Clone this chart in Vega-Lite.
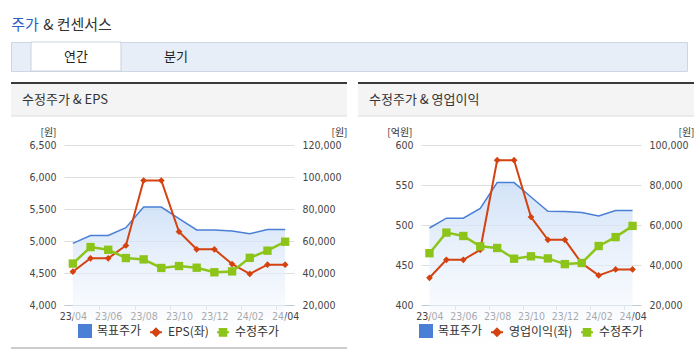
{
 "$schema": "https://vega.github.io/schema/vega-lite/v6.json",
 "background": "#ffffff",
 "padding": {"left": 9, "top": 14, "right": 0, "bottom": 0},
 "datasets": {
  "price": [
   {"m":"23/04","s":"목표주가","v":58500},{"m":"23/05","s":"목표주가","v":63400},{"m":"23/06","s":"목표주가","v":63400},{"m":"23/07","s":"목표주가","v":68300},{"m":"23/08","s":"목표주가","v":81200},{"m":"23/09","s":"목표주가","v":81200},{"m":"23/10","s":"목표주가","v":74000},{"m":"23/11","s":"목표주가","v":66900},{"m":"23/12","s":"목표주가","v":66800},{"m":"24/01","s":"목표주가","v":66200},{"m":"24/02","s":"목표주가","v":64500},{"m":"24/03","s":"목표주가","v":67200},{"m":"24/04","s":"목표주가","v":67200},
   {"m":"23/04","s":"수정주가","v":45900},{"m":"23/05","s":"수정주가","v":56200},{"m":"23/06","s":"수정주가","v":54500},{"m":"23/07","s":"수정주가","v":49350},{"m":"23/08","s":"수정주가","v":48500},{"m":"23/09","s":"수정주가","v":43150},{"m":"23/10","s":"수정주가","v":44350},{"m":"23/11","s":"수정주가","v":43300},{"m":"23/12","s":"수정주가","v":40450},{"m":"24/01","s":"수정주가","v":41000},{"m":"24/02","s":"수정주가","v":49500},{"m":"24/03","s":"수정주가","v":53950},{"m":"24/04","s":"수정주가","v":59550}
  ],
  "eps": [
   {"m":"23/04","s":"EPS(좌)","v":4520},{"m":"23/05","s":"EPS(좌)","v":4730},{"m":"23/06","s":"EPS(좌)","v":4730},{"m":"23/07","s":"EPS(좌)","v":4930},{"m":"23/08","s":"EPS(좌)","v":5945},{"m":"23/09","s":"EPS(좌)","v":5945},{"m":"23/10","s":"EPS(좌)","v":5145},{"m":"23/11","s":"EPS(좌)","v":4870},{"m":"23/12","s":"EPS(좌)","v":4870},{"m":"24/01","s":"EPS(좌)","v":4640},{"m":"24/02","s":"EPS(좌)","v":4485},{"m":"24/03","s":"EPS(좌)","v":4630},{"m":"24/04","s":"EPS(좌)","v":4630}
  ],
  "op": [
   {"m":"23/04","s":"영업이익(좌)","v":434},{"m":"23/05","s":"영업이익(좌)","v":456.5},{"m":"23/06","s":"영업이익(좌)","v":456.5},{"m":"23/07","s":"영업이익(좌)","v":469},{"m":"23/08","s":"영업이익(좌)","v":581},{"m":"23/09","s":"영업이익(좌)","v":581},{"m":"23/10","s":"영업이익(좌)","v":510},{"m":"23/11","s":"영업이익(좌)","v":481.5},{"m":"23/12","s":"영업이익(좌)","v":481.5},{"m":"24/01","s":"영업이익(좌)","v":452},{"m":"24/02","s":"영업이익(좌)","v":437},{"m":"24/03","s":"영업이익(좌)","v":444.5},{"m":"24/04","s":"영업이익(좌)","v":444.5}
  ]
 },
 "spacing": 10,
 "resolve": {"scale": {"color": "independent"}, "legend": {"color": "independent"}},
 "vconcat": [
  {
   "spacing": 5,
   "vconcat": [
    {
     "spacing": 4,
     "hconcat": [
      {"width": 28, "height": 22, "data": {"values": [{"t": "주가"}]}, "mark": {"type": "text", "fontSize": 15, "color": "#2a5fc4", "baseline": "middle"}, "encoding": {"text": {"field": "t"}}},
      {"width": 69, "height": 22, "data": {"values": [{"t": "& 컨센서스"}]}, "mark": {"type": "text", "fontSize": 15, "color": "#333333", "baseline": "middle"}, "encoding": {"text": {"field": "t"}}}
     ]
    },
    {
     "width": 676, "height": 29,
     "view": {"fill": "#e8eef8", "stroke": "#cdd6e4"},
     "data": {"values": [{"tab": "연간"}, {"tab": "분기"}]},
     "layer": [
      {"transform": [{"filter": "datum.tab === '연간'"}],
       "mark": {"type": "rect", "fill": "#ffffff", "stroke": "#c9d2df"},
       "encoding": {"x": {"field": "tab", "type": "nominal", "sort": null, "scale": {"domain": ["연간", "분기"], "range": [20, 210], "paddingInner": 0.1, "paddingOuter": 0}, "axis": null}}},
      {"mark": {"type": "text", "fontSize": 13, "color": "#222222"},
       "encoding": {"x": {"field": "tab", "type": "nominal", "sort": null, "scale": {"domain": ["연간", "분기"], "range": [20, 210], "paddingInner": 0.1, "paddingOuter": 0}, "axis": null}, "text": {"field": "tab"}}}
     ]
    }
   ]
  },
  {
   "spacing": 7,
   "resolve": {"scale": {"color": "independent"}, "legend": {"color": "independent"}},
   "hconcat": [
    {
     "spacing": 10,
     "resolve": {"scale": {"color": "independent"}, "legend": {"color": "independent"}},
     "vconcat": [
      {"width": 336, "height": 33, "view": {"fill": "#f4f4f4", "stroke": null},
       "title": {"text": "수정주가 & EPS", "anchor": "start", "frame": "group", "offset": -25, "dx": 11, "fontSize": 13, "fontWeight": "normal", "color": "#333333"},
       "data": {"values": [{}]},
       "layer": [
        {"mark": {"type": "rule", "color": "#3a3a3a", "strokeWidth": 2}, "encoding": {"y": {"datum": 1, "type": "quantitative", "scale": {"domain": [0, 1], "nice": false}, "axis": null}}},
        {"mark": {"type": "rule", "color": "#dddddd", "strokeWidth": 1}, "encoding": {"y": {"datum": 0, "type": "quantitative", "scale": {"domain": [0, 1], "nice": false}, "axis": null}}}
       ]},
      {"spacing": 6,
       "resolve": {"scale": {"color": "independent"}, "legend": {"color": "independent"}},
       "vconcat": [
       {"spacing": 0, "bounds": "flush",
        "resolve": {"scale": {"color": "independent"}, "legend": {"color": "independent"}},
        "hconcat": [
        {"width": 53, "height": 160, "data": {"values": [{}]}, "mark": {"type": "text", "text": ""}, "encoding": {}},
        {
        "width": 230, "height": 160,
        "layer": [
         {"data": {"name": "price"}, "transform": [{"filter": "datum.s === '목표주가'"}],
          "mark": {"type": "area", "color": {"gradient": "linear", "x1": 0, "y1": 0, "x2": 0, "y2": 1, "stops": [{"offset": 0, "color": "rgba(200,220,246,0.8)"}, {"offset": 1, "color": "rgba(255,255,255,0.5)"}]}},
          "encoding": {
           "x": {"field":"m","type":"ordinal","sort":null,"bandPosition":0.5,"scale":{"type":"band","paddingInner":0,"paddingOuter":0},"axis":{"title":null,"labelAngle":0,"labelOverlap":false,"labelExpr":"indexof(['23/05','23/07','23/09','23/11','24/01','24/03'], datum.value) >= 0 ? '' : datum.label","tickBand":"extent","tickOpacity":{"condition":{"test":"indexof(['23/05','23/07','23/09','23/11','24/01','24/03'], datum.value) >= 0","value":1},"value":0},"domainColor":"#bfcad8","tickColor":"#bfcad8","tickSize":4,"labelPadding":2,"grid":false}},
           "y": {"field": "v", "type": "quantitative", "scale": {"domain": [20000, 120000], "nice": false, "zero": false}, "axis": {"orient":"right","values":[20000,40000,60000,80000,100000,120000],"format":",.0f","title":"[원]","titleAngle":0,"titleAlign":"left","titleBaseline":"bottom","titleX":37,"titleY":-8,"ticks":false,"domain":false,"labelPadding":8,"grid":false}}
          }},
         {"data": {"name": "price"}, "transform": [{"filter": "datum.s === '목표주가'"}],
          "mark": {"type": "line", "strokeWidth": 1.5},
          "encoding": {
           "x": {"field":"m","type":"ordinal","sort":null,"bandPosition":0.5,"scale":{"type":"band","paddingInner":0,"paddingOuter":0},"axis":{"title":null,"labelAngle":0,"labelOverlap":false,"labelExpr":"indexof(['23/05','23/07','23/09','23/11','24/01','24/03'], datum.value) >= 0 ? '' : datum.label","tickBand":"extent","tickOpacity":{"condition":{"test":"indexof(['23/05','23/07','23/09','23/11','24/01','24/03'], datum.value) >= 0","value":1},"value":0},"domainColor":"#bfcad8","tickColor":"#bfcad8","tickSize":4,"labelPadding":2,"grid":false}},
           "y": {"field": "v", "type": "quantitative", "scale": {"domain": [20000, 120000], "nice": false, "zero": false}, "axis": null},
           "color": {"field":"s","type":"nominal","scale":{"domain":["목표주가","EPS(좌)","수정주가"],"range":["#4a7fd6","#d4420f","#8cc41a"]},"legend":{"title":null,"orient":"bottom","direction":"horizontal","encode":{"symbols":{"update":{"shape":{"signal":"datum.value === '목표주가' ? 'M-1,-1H1V1H-1Z' : datum.value === '수정주가' ? 'M-1,0H1M-0.55,-0.55H0.55V0.55H-0.55Z' : 'M-1,0H1M0,-0.6L0.6,0L0,0.6L-0.6,0Z'"},"fill":{"signal":"datum.value === '목표주가' ? '#1f6bdc' : datum.value === '수정주가' ? '#8cc41a' : '#d4420f'"},"stroke":{"signal":"datum.value === '목표주가' ? 'transparent' : datum.value === '수정주가' ? '#8cc41a' : '#d4420f'"},"strokeWidth":{"value":2},"opacity":{"value":1},"fillOpacity":{"value":1},"strokeOpacity":{"value":1}}}}}}
          }},
         {"data": {"name": "eps"},
          "mark": {"type": "line", "strokeWidth": 2},
          "encoding": {
           "x": {"field":"m","type":"ordinal","sort":null,"bandPosition":0.5,"scale":{"type":"band","paddingInner":0,"paddingOuter":0},"axis":{"title":null,"labelAngle":0,"labelOverlap":false,"labelExpr":"indexof(['23/05','23/07','23/09','23/11','24/01','24/03'], datum.value) >= 0 ? '' : datum.label","tickBand":"extent","tickOpacity":{"condition":{"test":"indexof(['23/05','23/07','23/09','23/11','24/01','24/03'], datum.value) >= 0","value":1},"value":0},"domainColor":"#bfcad8","tickColor":"#bfcad8","tickSize":4,"labelPadding":2,"grid":false}},
           "y": {"field": "v", "type": "quantitative", "scale": {"domain": [4000, 6500], "nice": false, "zero": false}, "axis": {"orient":"left","values":[4000,4500,5000,5500,6000,6500],"format":",.0f","title":"[원]","titleAngle":0,"titleAlign":"right","titleBaseline":"bottom","titleX":-8,"titleY":-8,"ticks":false,"domain":false,"labelPadding":8,"grid":true,"gridColor":"#dedede"}},
           "color": {"field":"s","type":"nominal","scale":{"domain":["목표주가","EPS(좌)","수정주가"],"range":["#4a7fd6","#d4420f","#8cc41a"]}}
          }},
         {"data": {"name": "eps"},
          "mark": {"type": "point", "shape": "diamond", "filled": true, "size": 45, "opacity": 1},
          "encoding": {
           "x": {"field":"m","type":"ordinal","sort":null,"bandPosition":0.5,"scale":{"type":"band","paddingInner":0,"paddingOuter":0},"axis":{"title":null,"labelAngle":0,"labelOverlap":false,"labelExpr":"indexof(['23/05','23/07','23/09','23/11','24/01','24/03'], datum.value) >= 0 ? '' : datum.label","tickBand":"extent","tickOpacity":{"condition":{"test":"indexof(['23/05','23/07','23/09','23/11','24/01','24/03'], datum.value) >= 0","value":1},"value":0},"domainColor":"#bfcad8","tickColor":"#bfcad8","tickSize":4,"labelPadding":2,"grid":false}},
           "y": {"field": "v", "type": "quantitative", "scale": {"domain": [4000, 6500], "nice": false, "zero": false}, "axis": null},
           "color": {"field":"s","type":"nominal","scale":{"domain":["목표주가","EPS(좌)","수정주가"],"range":["#4a7fd6","#d4420f","#8cc41a"]}}
          }},
         {"data": {"name": "price"}, "transform": [{"filter": "datum.s === '수정주가'"}],
          "mark": {"type": "line", "strokeWidth": 2.5},
          "encoding": {
           "x": {"field":"m","type":"ordinal","sort":null,"bandPosition":0.5,"scale":{"type":"band","paddingInner":0,"paddingOuter":0},"axis":{"title":null,"labelAngle":0,"labelOverlap":false,"labelExpr":"indexof(['23/05','23/07','23/09','23/11','24/01','24/03'], datum.value) >= 0 ? '' : datum.label","tickBand":"extent","tickOpacity":{"condition":{"test":"indexof(['23/05','23/07','23/09','23/11','24/01','24/03'], datum.value) >= 0","value":1},"value":0},"domainColor":"#bfcad8","tickColor":"#bfcad8","tickSize":4,"labelPadding":2,"grid":false}},
           "y": {"field": "v", "type": "quantitative", "scale": {"domain": [20000, 120000], "nice": false, "zero": false}, "axis": null},
           "color": {"field":"s","type":"nominal","scale":{"domain":["목표주가","EPS(좌)","수정주가"],"range":["#4a7fd6","#d4420f","#8cc41a"]}}
          }},
         {"data": {"name": "price"}, "transform": [{"filter": "datum.s === '수정주가'"}],
          "mark": {"type": "point", "shape": "square", "filled": true, "size": 70, "opacity": 1},
          "encoding": {
           "x": {"field":"m","type":"ordinal","sort":null,"bandPosition":0.5,"scale":{"type":"band","paddingInner":0,"paddingOuter":0},"axis":{"title":null,"labelAngle":0,"labelOverlap":false,"labelExpr":"indexof(['23/05','23/07','23/09','23/11','24/01','24/03'], datum.value) >= 0 ? '' : datum.label","tickBand":"extent","tickOpacity":{"condition":{"test":"indexof(['23/05','23/07','23/09','23/11','24/01','24/03'], datum.value) >= 0","value":1},"value":0},"domainColor":"#bfcad8","tickColor":"#bfcad8","tickSize":4,"labelPadding":2,"grid":false}},
           "y": {"field": "v", "type": "quantitative", "scale": {"domain": [20000, 120000], "nice": false, "zero": false}, "axis": null},
           "color": {"field":"s","type":"nominal","scale":{"domain":["목표주가","EPS(좌)","수정주가"],"range":["#4a7fd6","#d4420f","#8cc41a"]}}
          }}
        ],
        "resolve": {"scale": {"y": "independent"}}
       }]},
       {"width": 336, "height": 3, "data": {"values": [{}]}, "mark": {"type": "rule", "color": "#cccccc", "strokeWidth": 3}, "encoding": {"y": {"datum": 0.5, "type": "quantitative", "scale": {"domain": [0, 1], "nice": false}, "axis": null}}}
      ]}
     ]
    },
    {
     "spacing": 10,
     "resolve": {"scale": {"color": "independent"}, "legend": {"color": "independent"}},
     "vconcat": [
      {"width": 336, "height": 33, "view": {"fill": "#f4f4f4", "stroke": null},
       "title": {"text": "수정주가 & 영업이익", "anchor": "start", "frame": "group", "offset": -25, "dx": 11, "fontSize": 13, "fontWeight": "normal", "color": "#333333"},
       "data": {"values": [{}]},
       "layer": [
        {"mark": {"type": "rule", "color": "#3a3a3a", "strokeWidth": 2}, "encoding": {"y": {"datum": 1, "type": "quantitative", "scale": {"domain": [0, 1], "nice": false}, "axis": null}}},
        {"mark": {"type": "rule", "color": "#dddddd", "strokeWidth": 1}, "encoding": {"y": {"datum": 0, "type": "quantitative", "scale": {"domain": [0, 1], "nice": false}, "axis": null}}}
       ]},
      {"spacing": 6,
       "resolve": {"scale": {"color": "independent"}, "legend": {"color": "independent"}},
       "vconcat": [
       {"spacing": 0, "bounds": "flush",
        "resolve": {"scale": {"color": "independent"}, "legend": {"color": "independent"}},
        "hconcat": [
        {"width": 63, "height": 160, "data": {"values": [{}]}, "mark": {"type": "text", "text": ""}, "encoding": {}},
        {
        "width": 220, "height": 160,
        "layer": [
         {"data": {"name": "price"}, "transform": [{"filter": "datum.s === '목표주가'"}],
          "mark": {"type": "area", "color": {"gradient": "linear", "x1": 0, "y1": 0, "x2": 0, "y2": 1, "stops": [{"offset": 0, "color": "rgba(200,220,246,0.8)"}, {"offset": 1, "color": "rgba(255,255,255,0.5)"}]}},
          "encoding": {
           "x": {"field":"m","type":"ordinal","sort":null,"bandPosition":0.5,"scale":{"type":"band","paddingInner":0,"paddingOuter":0},"axis":{"title":null,"labelAngle":0,"labelOverlap":false,"labelExpr":"indexof(['23/05','23/07','23/09','23/11','24/01','24/03'], datum.value) >= 0 ? '' : datum.label","tickBand":"extent","tickOpacity":{"condition":{"test":"indexof(['23/05','23/07','23/09','23/11','24/01','24/03'], datum.value) >= 0","value":1},"value":0},"domainColor":"#bfcad8","tickColor":"#bfcad8","tickSize":4,"labelPadding":2,"grid":false}},
           "y": {"field": "v", "type": "quantitative", "scale": {"domain": [20000, 100000], "nice": false, "zero": false}, "axis": {"orient":"right","values":[20000,40000,60000,80000,100000],"format":",.0f","title":"[원]","titleAngle":0,"titleAlign":"left","titleBaseline":"bottom","titleX":37,"titleY":-8,"ticks":false,"domain":false,"labelPadding":8,"grid":false}}
          }},
         {"data": {"name": "price"}, "transform": [{"filter": "datum.s === '목표주가'"}],
          "mark": {"type": "line", "strokeWidth": 1.5},
          "encoding": {
           "x": {"field":"m","type":"ordinal","sort":null,"bandPosition":0.5,"scale":{"type":"band","paddingInner":0,"paddingOuter":0},"axis":{"title":null,"labelAngle":0,"labelOverlap":false,"labelExpr":"indexof(['23/05','23/07','23/09','23/11','24/01','24/03'], datum.value) >= 0 ? '' : datum.label","tickBand":"extent","tickOpacity":{"condition":{"test":"indexof(['23/05','23/07','23/09','23/11','24/01','24/03'], datum.value) >= 0","value":1},"value":0},"domainColor":"#bfcad8","tickColor":"#bfcad8","tickSize":4,"labelPadding":2,"grid":false}},
           "y": {"field": "v", "type": "quantitative", "scale": {"domain": [20000, 100000], "nice": false, "zero": false}, "axis": null},
           "color": {"field":"s","type":"nominal","scale":{"domain":["목표주가","영업이익(좌)","수정주가"],"range":["#4a7fd6","#d4420f","#8cc41a"]},"legend":{"title":null,"orient":"bottom","direction":"horizontal","encode":{"symbols":{"update":{"shape":{"signal":"datum.value === '목표주가' ? 'M-1,-1H1V1H-1Z' : datum.value === '수정주가' ? 'M-1,0H1M-0.55,-0.55H0.55V0.55H-0.55Z' : 'M-1,0H1M0,-0.6L0.6,0L0,0.6L-0.6,0Z'"},"fill":{"signal":"datum.value === '목표주가' ? '#1f6bdc' : datum.value === '수정주가' ? '#8cc41a' : '#d4420f'"},"stroke":{"signal":"datum.value === '목표주가' ? 'transparent' : datum.value === '수정주가' ? '#8cc41a' : '#d4420f'"},"strokeWidth":{"value":2},"opacity":{"value":1},"fillOpacity":{"value":1},"strokeOpacity":{"value":1}}}}}}
          }},
         {"data": {"name": "op"},
          "mark": {"type": "line", "strokeWidth": 2},
          "encoding": {
           "x": {"field":"m","type":"ordinal","sort":null,"bandPosition":0.5,"scale":{"type":"band","paddingInner":0,"paddingOuter":0},"axis":{"title":null,"labelAngle":0,"labelOverlap":false,"labelExpr":"indexof(['23/05','23/07','23/09','23/11','24/01','24/03'], datum.value) >= 0 ? '' : datum.label","tickBand":"extent","tickOpacity":{"condition":{"test":"indexof(['23/05','23/07','23/09','23/11','24/01','24/03'], datum.value) >= 0","value":1},"value":0},"domainColor":"#bfcad8","tickColor":"#bfcad8","tickSize":4,"labelPadding":2,"grid":false}},
           "y": {"field": "v", "type": "quantitative", "scale": {"domain": [400, 600], "nice": false, "zero": false}, "axis": {"orient":"left","values":[400,450,500,550,600],"format":",.0f","title":"[억원]","titleAngle":0,"titleAlign":"right","titleBaseline":"bottom","titleX":-9,"titleY":-8,"ticks":false,"domain":false,"labelPadding":8,"grid":true,"gridColor":"#dedede"}},
           "color": {"field":"s","type":"nominal","scale":{"domain":["목표주가","영업이익(좌)","수정주가"],"range":["#4a7fd6","#d4420f","#8cc41a"]}}
          }},
         {"data": {"name": "op"},
          "mark": {"type": "point", "shape": "diamond", "filled": true, "size": 45, "opacity": 1},
          "encoding": {
           "x": {"field":"m","type":"ordinal","sort":null,"bandPosition":0.5,"scale":{"type":"band","paddingInner":0,"paddingOuter":0},"axis":{"title":null,"labelAngle":0,"labelOverlap":false,"labelExpr":"indexof(['23/05','23/07','23/09','23/11','24/01','24/03'], datum.value) >= 0 ? '' : datum.label","tickBand":"extent","tickOpacity":{"condition":{"test":"indexof(['23/05','23/07','23/09','23/11','24/01','24/03'], datum.value) >= 0","value":1},"value":0},"domainColor":"#bfcad8","tickColor":"#bfcad8","tickSize":4,"labelPadding":2,"grid":false}},
           "y": {"field": "v", "type": "quantitative", "scale": {"domain": [400, 600], "nice": false, "zero": false}, "axis": null},
           "color": {"field":"s","type":"nominal","scale":{"domain":["목표주가","영업이익(좌)","수정주가"],"range":["#4a7fd6","#d4420f","#8cc41a"]}}
          }},
         {"data": {"name": "price"}, "transform": [{"filter": "datum.s === '수정주가'"}],
          "mark": {"type": "line", "strokeWidth": 2.5},
          "encoding": {
           "x": {"field":"m","type":"ordinal","sort":null,"bandPosition":0.5,"scale":{"type":"band","paddingInner":0,"paddingOuter":0},"axis":{"title":null,"labelAngle":0,"labelOverlap":false,"labelExpr":"indexof(['23/05','23/07','23/09','23/11','24/01','24/03'], datum.value) >= 0 ? '' : datum.label","tickBand":"extent","tickOpacity":{"condition":{"test":"indexof(['23/05','23/07','23/09','23/11','24/01','24/03'], datum.value) >= 0","value":1},"value":0},"domainColor":"#bfcad8","tickColor":"#bfcad8","tickSize":4,"labelPadding":2,"grid":false}},
           "y": {"field": "v", "type": "quantitative", "scale": {"domain": [20000, 100000], "nice": false, "zero": false}, "axis": null},
           "color": {"field":"s","type":"nominal","scale":{"domain":["목표주가","영업이익(좌)","수정주가"],"range":["#4a7fd6","#d4420f","#8cc41a"]}}
          }},
         {"data": {"name": "price"}, "transform": [{"filter": "datum.s === '수정주가'"}],
          "mark": {"type": "point", "shape": "square", "filled": true, "size": 70, "opacity": 1},
          "encoding": {
           "x": {"field":"m","type":"ordinal","sort":null,"bandPosition":0.5,"scale":{"type":"band","paddingInner":0,"paddingOuter":0},"axis":{"title":null,"labelAngle":0,"labelOverlap":false,"labelExpr":"indexof(['23/05','23/07','23/09','23/11','24/01','24/03'], datum.value) >= 0 ? '' : datum.label","tickBand":"extent","tickOpacity":{"condition":{"test":"indexof(['23/05','23/07','23/09','23/11','24/01','24/03'], datum.value) >= 0","value":1},"value":0},"domainColor":"#bfcad8","tickColor":"#bfcad8","tickSize":4,"labelPadding":2,"grid":false}},
           "y": {"field": "v", "type": "quantitative", "scale": {"domain": [20000, 100000], "nice": false, "zero": false}, "axis": null},
           "color": {"field":"s","type":"nominal","scale":{"domain":["목표주가","영업이익(좌)","수정주가"],"range":["#4a7fd6","#d4420f","#8cc41a"]}}
          }}
        ],
        "resolve": {"scale": {"y": "independent"}}
       }]},
       {"width": 336, "height": 3, "data": {"values": [{}]}, "mark": {"type": "rule", "color": "#cccccc", "strokeWidth": 3}, "encoding": {"y": {"datum": 0.5, "type": "quantitative", "scale": {"domain": [0, 1], "nice": false}, "axis": null}}}
      ]}
     ]
    }
   ]
  }
 ],
 "config": {
  "font": "Noto Sans CJK KR",
  "view": {"stroke": null},
  "axis": {"labelFont": "Liberation Sans Narrow, DejaVu Sans Condensed, sans-serif", "labelFontSize": 10.5, "labelColor": "#444444", "titleFont": "Noto Sans CJK KR", "titleFontSize": 10, "titleFontWeight": "normal", "titleColor": "#333333"},
  "legend": {"labelFont": "Noto Sans CJK KR", "labelFontSize": 12, "labelColor": "#333333", "symbolSize": 144, "labelOffset": 5, "columnPadding": 4, "offset": 2, "padding": 0, "layout": {"bottom": {"anchor": "middle"}}},
  "title": {"font": "Noto Sans CJK KR"}
 }
}
